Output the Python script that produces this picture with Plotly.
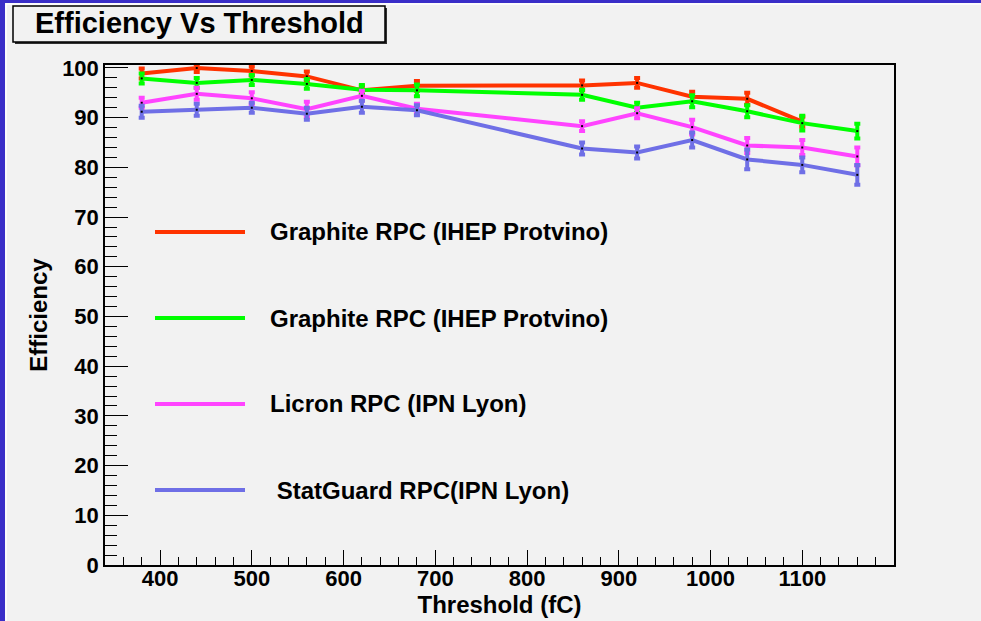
import plotly.graph_objects as go

# ---------------- data ----------------
names = ["Graphite RPC (IHEP Protvino)", "Graphite RPC (IHEP Protvino)",
         "Licron RPC (IPN Lyon)", " StatGuard RPC(IPN Lyon)"]
colors = ["#ff3300", "#00ff00", "#ff44ff", "#6f6fe6"]

x_red = [380, 440, 500, 560, 620, 680, 860, 920, 980, 1040, 1100]
y_red = [98.9, 100.0, 99.4, 98.3, 95.5, 96.4, 96.5, 97.0, 94.2, 93.8, 89.2]
e_red = [1.0, 0.8, 0.9, 1.0, 0.8, 1.0, 1.0, 1.0, 1.0, 1.2, 1.0]

x_all = [380, 440, 500, 560, 620, 680, 860, 920, 980, 1040, 1100, 1160]
y_green = [97.9, 97.0, 97.6, 96.8, 95.6, 95.5, 94.6, 92.0, 93.3, 91.3, 88.9, 87.3]
e_green = [1.0, 1.0, 1.0, 1.0, 1.0, 1.2, 1.0, 1.0, 1.2, 1.2, 1.5, 1.5]

y_mag = [93.0, 94.8, 93.9, 91.7, 94.4, 91.8, 88.3, 90.9, 88.1, 84.4, 84.0, 82.2]
e_mag = [1.0, 1.2, 1.2, 1.5, 1.0, 1.0, 1.0, 1.0, 1.5, 1.5, 1.5, 1.8]

y_blue = [91.2, 91.6, 92.0, 90.8, 92.2, 91.5, 83.8, 83.0, 85.5, 81.6, 80.5, 78.5]
e_blue = [1.2, 1.2, 1.0, 1.2, 1.2, 1.0, 1.2, 1.2, 1.5, 2.0, 1.5, 2.0]

x_ticks = [400, 500, 600, 700, 800, 900, 1000, 1100]
y_ticks = [0, 10, 20, 30, 40, 50, 60, 70, 80, 90, 100]

title_text = "Efficiency Vs Threshold"
x_title = "Threshold (fC)"
y_title = "Efficiency"

series = [
    (x_red, y_red, e_red),
    (x_all, y_green, e_green),
    (x_all, y_mag, e_mag),
    (x_all, y_blue, e_blue),
]

FONT = "Liberation Sans, Arial, sans-serif"
BG = "#f2f2f2"

fig = go.Figure()
for (xs, ys, es), nm, col in zip(series, names, colors):
    fig.add_trace(go.Scatter(
        x=xs, y=ys, name=nm, mode="lines+markers",
        line=dict(color=col, width=4),
        marker=dict(color="black", size=2, symbol="square"),
        error_y=dict(type="data", array=es, visible=True,
                     color=col, thickness=4, width=3),
        showlegend=False,
    ))

W, H = 981, 621
L, R, T, B = 105, 87, 65, 56
pw, ph = W - L - R, H - T - B

def px(xp):
    return (xp - L) / pw

def py(yp):
    return (H - B - yp) / ph

# ---------------- manual legend ----------------
leg_y = [232, 318, 404, 490]
shapes = []
annotations = []
for nm, col, yy in zip(names, colors, leg_y):
    shapes.append(dict(type="line", xref="paper", yref="paper",
                       x0=px(155), x1=px(245), y0=py(yy), y1=py(yy),
                       line=dict(color=col, width=4)))
    annotations.append(dict(text="<b>%s</b>" % nm, xref="paper", yref="paper",
                            x=px(268), y=py(yy), xanchor="left", yanchor="middle",
                            showarrow=False,
                            font=dict(family=FONT, size=24, color="black")))

# ---------------- title box ----------------
shapes.append(dict(type="rect", xref="paper", yref="paper",
                   x0=px(15), x1=px(387), y0=py(44), y1=py(8),
                   fillcolor="#303030", line=dict(width=0), layer="above"))
shapes.append(dict(type="rect", xref="paper", yref="paper",
                   x0=px(13), x1=px(385), y0=py(42), y1=py(6),
                   fillcolor=BG, line=dict(color="black", width=1.5), layer="above"))
annotations.append(dict(text="<b>%s</b>" % title_text, xref="paper", yref="paper",
                        x=px(199), y=py(23), xanchor="center", yanchor="middle",
                        showarrow=False,
                        font=dict(family=FONT, size=29, color="black")))

# blue window borders
shapes.append(dict(type="rect", xref="paper", yref="paper",
                   x0=px(-5), x1=px(5), y0=py(H + 5), y1=py(-5),
                   fillcolor="#3a2ec8", line=dict(width=0), layer="above"))
shapes.append(dict(type="rect", xref="paper", yref="paper",
                   x0=px(-5), x1=px(W + 5), y0=py(3), y1=py(-5),
                   fillcolor="#3a2ec8", line=dict(width=0), layer="above"))
shapes.append(dict(type="line", xref="paper", yref="paper",
                   x0=px(6), x1=px(6), y0=py(H + 5), y1=py(3.5),
                   line=dict(color="white", width=1.5), layer="above"))
shapes.append(dict(type="line", xref="paper", yref="paper",
                   x0=px(6), x1=px(W + 5), y0=py(4), y1=py(4),
                   line=dict(color="white", width=1.5), layer="above"))

tickfont = dict(family=FONT, size=22, color="black")
fig.update_layout(
    width=W, height=H,
    margin=dict(l=L, r=R, t=T, b=B, autoexpand=False),
    paper_bgcolor=BG, plot_bgcolor=BG,
    shapes=shapes, annotations=annotations,
    showlegend=False,
    xaxis=dict(range=[340, 1200], tickvals=x_ticks, automargin=False,
               ticktext=["<b>%d</b>" % v for v in x_ticks],
               ticklabelstandoff=-7,
               ticks="inside", ticklen=15, tickwidth=1.2, tickcolor="black",
               minor=dict(dtick=20, tick0=0, ticks="inside", ticklen=8,
                          tickwidth=1.2, tickcolor="black", showgrid=False),
               showgrid=False, zeroline=False, showline=True, linecolor="black",
               linewidth=1.5, mirror=True, tickfont=tickfont,
               title=dict(text="<b>%s</b>" % x_title, standoff=0,
                          font=dict(family=FONT, size=24, color="black"))),
    yaxis=dict(range=[0, 100.6], tickvals=y_ticks, automargin=False,
               ticktext=["<b>%d</b>" % v for v in y_ticks],
               ticks="inside", ticklen=23, tickwidth=1.2, tickcolor="black",
               minor=dict(dtick=2, tick0=0, ticks="inside", ticklen=12,
                          tickwidth=1.2, tickcolor="black", showgrid=False),
               showgrid=False, zeroline=False, showline=True, linecolor="black",
               linewidth=1.5, mirror=True, tickfont=tickfont,
               title=dict(text="<b>%s</b>" % y_title, standoff=8,
                          font=dict(family=FONT, size=24, color="black"))),
)

fig.write_html("out.html")
